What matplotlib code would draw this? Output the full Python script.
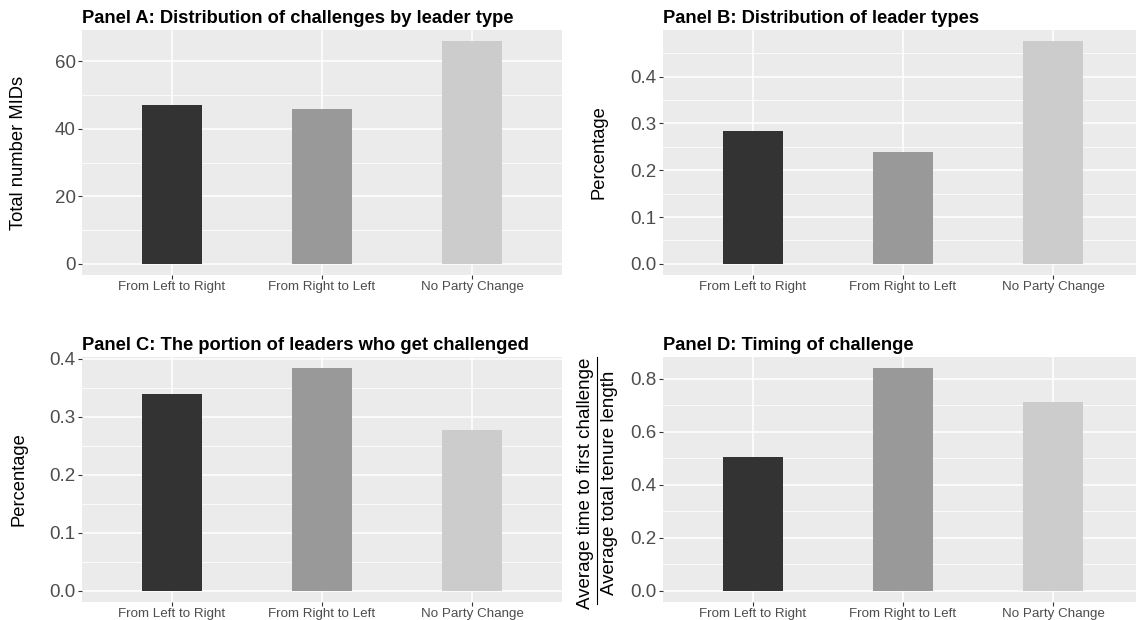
import matplotlib
matplotlib.use("Agg")
import numpy as np
from matplotlib import pyplot as plt
from matplotlib.lines import Line2D

plt.rcParams['font.family'] = ['Liberation Sans', 'DejaVu Sans']

categories = ["From Left to Right", "From Right to Left", "No Party Change"]
bar_colors = ["#333333", "#999999", "#CCCCCC"]

mids_total = [47, 46, 66]
leader_share = [0.283, 0.240, 0.476]
challenged_share = [0.339, 0.384, 0.277]
timing_ratio = [0.506, 0.841, 0.714]

titles = ["Panel A: Distribution of challenges by leader type",
          "Panel B: Distribution of leader types",
          "Panel C: The portion of leaders who get challenged",
          "Panel D: Timing of challenge"]
ylabels = ["Total number MIDs", "Percentage", "Percentage", None]

major_ticks = [[0, 20, 40, 60],
               [0.0, 0.1, 0.2, 0.3, 0.4],
               [0.0, 0.1, 0.2, 0.3, 0.4],
               [0.0, 0.2, 0.4, 0.6, 0.8]]
tick_fmt = ["{:.0f}", "{:.1f}", "{:.1f}", "{:.1f}"]

W, H = 1136, 620
fig = plt.figure(figsize=(W / 100, H / 100), dpi=100)


def box(x0, x1, y0, y1):
    return [x0 / W, 1 - y1 / H, (x1 - x0) / W, (y1 - y0) / H]


boxes = [box(82, 562, 30, 275), box(663, 1143, 30, 275),
         box(82, 562, 357, 602), box(663, 1143, 357, 602)]
ylabel_x = [19, 599, 19, None]
data = [mids_total, leader_share, challenged_share, timing_ratio]

x = np.arange(1, 4)
for i in range(4):
    ax = fig.add_axes(boxes[i])
    ax.set_facecolor("#EBEBEB")
    for s in ax.spines.values():
        s.set_visible(False)
    vals = data[i]
    top = max(vals)
    tk = major_ticks[i]
    step = tk[1] - tk[0]
    minors = [t + step / 2 for t in tk if t + step / 2 < 1.05 * top]
    ax.set_yticks(tk)
    ax.set_yticklabels([tick_fmt[i].format(t) for t in tk])
    ax.set_yticks(minors, minor=True)
    ax.set_xticks(x)
    ax.set_xticklabels(categories)
    ax.set_ylim(-0.05 * top, 1.05 * top)
    ax.set_xlim(0.4, 3.6)
    ax.grid(True, which="major", color="white", linewidth=1.1)
    ax.grid(True, which="minor", axis="y", color="white", linewidth=0.55)
    ax.set_axisbelow(True)
    ax.tick_params(axis="y", which="major", length=3, width=0.8, color="#333333",
                   labelsize=13.5, labelcolor="#4D4D4D", pad=1.5)
    ax.tick_params(axis="x", which="major", length=3, width=0.8, color="#333333",
                   labelsize=9.6, labelcolor="#4D4D4D", pad=1.5)
    ax.tick_params(which="minor", length=0)
    ax.bar(x, vals, width=0.4, color=bar_colors, zorder=2)
    ax.set_title(titles[i], loc="left", fontsize=13.2, fontweight="bold", pad=5)
    if ylabels[i]:
        bb = boxes[i]
        fig.text(ylabel_x[i] / W, bb[1] + bb[3] / 2, ylabels[i], rotation=90,
                 ha="center", va="center", fontsize=13.2)

# Panel D fraction label
yc = 1 - 483 / H
fig.text(585 / W, yc, "Average time to first challenge", rotation=90,
         ha="center", va="center", fontsize=13.5)
fig.text(609 / W, yc, "Average total tenure length", rotation=90,
         ha="center", va="center", fontsize=13.5)
fig.add_artist(Line2D([597 / W, 597 / W], [1 - 357 / H, 1 - 604 / H],
                      color="black", linewidth=0.8, transform=fig.transFigure))

fig.savefig("out.png", dpi=100)
